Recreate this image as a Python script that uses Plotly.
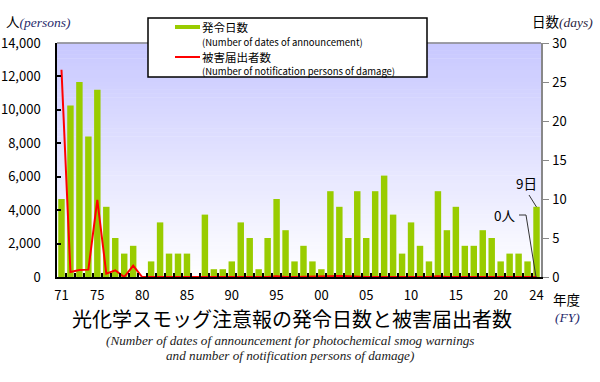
import plotly.graph_objects as go

# ---------------- data ----------------
years = list(range(1971, 2025))
days = [10, 22, 25, 18, 24, 9, 5, 3, 4, 0,
        2, 7, 3, 3, 3, 0, 8, 1, 1, 2,
        7, 5, 1, 5, 10, 6, 2, 4, 2, 1,
        11, 9, 5, 11, 5, 11, 13, 8, 3, 7,
        4, 2, 11, 6, 9, 4, 4, 6, 5, 2,
        3, 3, 2, 9]
persons = [12400, 300, 420, 440, 4620, 200, 400, 0, 680, 0,
           0, 0, 0, 0, 0, 0, 30, 0, 0, 0,
           40, 0, 0, 0, 50, 0, 0, 0, 0, 0,
           40, 60, 30, 0, 0, 0, 0, 0, 0, 0,
           0, 0, 50, 0, 0, 0, 0, 0, 0, 0,
           0, 0, 0, 0]
tick_years = [1971, 1975, 1980, 1985, 1990, 1995, 2000, 2005, 2010, 2015, 2020, 2024]
tick_text = ["71", "75", "80", "85", "90", "95", "00", "05", "10", "15", "20", "24"]
left_ticks = [0, 2000, 4000, 6000, 8000, 10000, 12000, 14000]
left_text = ["0", "2,000", "4,000", "6,000", "8,000", "10,000", "12,000", "14,000"]

# ---------------- layout geometry ----------------
W, H = 600, 382
L, R, T, B = 57, 541, 43, 277


def px(x):
    return (x - L) / (R - L)


def py(y):
    return (B - y) / (B - T)


FONT = "Noto Sans CJK JP"
SERIF = "Liberation Serif"

fig = go.Figure()
fig.add_trace(go.Bar(x=years, y=days, marker=dict(color="#99cc00", line=dict(width=0)),
                     width=0.72, yaxis="y", showlegend=False))
fig.add_trace(go.Scatter(x=years, y=persons, mode="lines", line=dict(color="#ff0000", width=2),
                         yaxis="y2", showlegend=False))

shapes = []
# gradient background
n = 60
for i in range(n):
    t = i / (n - 1)
    r = int(round(200 + (255 - 200) * (1 - t)))
    shapes.append(dict(type="rect", xref="paper", yref="paper", layer="below",
                       x0=0, x1=1, y0=i / n, y1=(i + 1) / n + 0.002,
                       fillcolor=f"rgb({r},{r},255)", line=dict(width=0)))
# top border (gray)
shapes.append(dict(type="line", xref="paper", yref="paper", x0=0, x1=1, y0=1, y1=1,
                   line=dict(color="#888888", width=1.5)))
# legend box
shapes.append(dict(type="rect", xref="paper", yref="paper",
                   x0=px(148), x1=px(427), y0=py(77), y1=py(18),
                   fillcolor="white", line=dict(color="black", width=1.5)))
shapes.append(dict(type="line", xref="paper", yref="paper",
                   x0=px(175), x1=px(200), y0=py(27), y1=py(27),
                   line=dict(color="#99cc00", width=4)))
shapes.append(dict(type="line", xref="paper", yref="paper",
                   x0=px(175), x1=px(200), y0=py(57), y1=py(57),
                   line=dict(color="#ff0000", width=2)))
# leader lines
shapes.append(dict(type="path", xref="paper", yref="paper",
                   path=f"M {px(529)} {py(195)} L {px(536.5)} {py(207)}",
                   line=dict(color="#333333", width=1)))
shapes.append(dict(type="path", xref="paper", yref="paper",
                   path=f"M {px(519)} {py(215)} L {px(526)} {py(215)} L {px(536)} {py(277)}",
                   line=dict(color="#333333", width=1)))

ann = []


def add_text(x, y, text, size, anchor="left", family=FONT, color="black"):
    ann.append(dict(x=px(x), y=py(y), xref="paper", yref="paper", text=text, showarrow=False,
                    xanchor=anchor, yanchor="middle", borderpad=0,
                    font=dict(family=family, size=size, color=color)))


add_text(5, 21, "人<i><span style='font-family:Liberation Serif;color:#1f2a6b'>(persons)</span></i>", 13.5)
add_text(531, 21, "日数<i><span style='font-family:Liberation Serif;color:#2a2440'>(days)</span></i>", 13.5)
add_text(201, 27, "発令日数", 11.5)
add_text(201, 42, "(Number of dates of announcement)", 9.5)
add_text(201, 57, "被害届出者数", 11.5)
add_text(201, 71, "(Number of notification persons of damage)", 9.5)
add_text(538, 183, "9日", 13.5, anchor="right")
add_text(516, 215, "0人", 13.5, anchor="right")
add_text(552, 299, "年度", 13.5)
add_text(554, 317, "<i>(FY)</i>", 13.5, family=SERIF, color="#1f2a6b")
add_text(292, 318, "光化学スモッグ注意報の発令日数と被害届出者数", 20, anchor="center")
add_text(290, 340, "<i>(Number of dates of announcement for photochemical smog warnings</i>", 13.2,
         anchor="center", family=SERIF, color="#222222")
add_text(290, 355, "<i>and number of notification persons of damage)</i>", 13.2,
         anchor="center", family=SERIF, color="#222222")

fig.update_layout(
    width=W, height=H,
    margin=dict(l=L, r=W - R, t=T, b=H - B, pad=0, autoexpand=False),
    paper_bgcolor="white", plot_bgcolor="white",
    bargap=0.28,
    font=dict(family=FONT, size=13, color="black"),
    xaxis=dict(range=[1970.5, 2024.5], tickmode="array", tickvals=tick_years, ticktext=tick_text,
               ticks="", showgrid=False, zeroline=False, showline=True, linecolor="black", linewidth=1.5,
               ticklabelstandoff=6, tickfont=dict(size=13), automargin=False,
               minor=dict(tickmode="array", tickvals=[y - 0.5 for y in years[1:]], ticks="inside",
                          ticklen=4, tickcolor="black", tickwidth=1.5, showgrid=False)),
    yaxis=dict(range=[0, 30], side="right", tickmode="array", tickvals=[0, 5, 10, 15, 20, 25, 30],
               ticks="outside", ticklen=6, tickcolor="#888888", showgrid=False, zeroline=False,
               showline=True, linecolor="#888888", linewidth=1.5, tickfont=dict(size=13),
               ticklabelstandoff=1, automargin=False),
    yaxis2=dict(range=[0, 14000], side="left", overlaying="y", tickmode="array", tickvals=left_ticks,
                ticktext=left_text, ticks="inside", ticklen=4, tickcolor="black", tickwidth=1.5,
                showgrid=False, zeroline=False, showline=True, linecolor="black", linewidth=1.5,
                tickfont=dict(size=13), ticklabelstandoff=12, automargin=False),
    shapes=shapes,
    annotations=ann,
)

fig.write_html("out.html")
